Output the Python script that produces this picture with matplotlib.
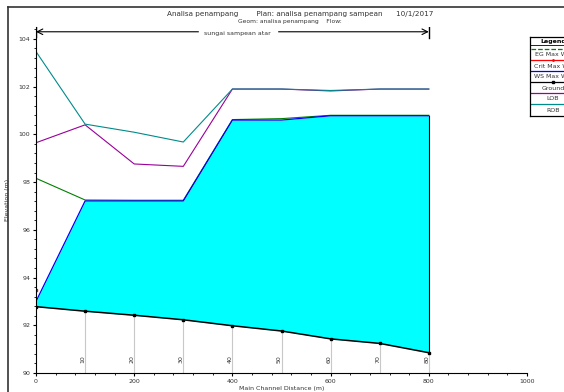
import matplotlib
matplotlib.use('Agg')
import matplotlib.pyplot as plt
from matplotlib.lines import Line2D
import numpy as np

# Data
dist = [0, 100, 200, 300, 400, 500, 600, 700, 800]
stations = ['', '10', '20', '30', '40', '50', '60', '70', '80']
ground = [92.78, 92.59, 92.42, 92.23, 91.98, 91.76, 91.43, 91.24, 90.85]
ws_max = [93.0, 97.21, 97.21, 97.21, 100.6, 100.6, 100.78, 100.78, 100.78]
eg_max = [98.16, 97.25, 97.24, 97.24, 100.62, 100.66, 100.8, 100.8, 100.8]
crit_max = [93.48]
lob = [99.65, 100.4, 98.76, 98.66, 101.9, 101.9, 101.82, 101.9, 101.9]
rob = [103.47, 100.43, 100.09, 99.68, 101.9, 101.9, 101.84, 101.9, 101.9]

legend_labels = ['EG Max WS', 'Crit Max WS', 'WS Max WS', 'Ground', 'LOB', 'ROB']
legend_colors = ['#008000', '#ff0000', '#0000ff', '#000000', '#990099', '#008b8b']

fig = plt.figure(figsize=(5.64, 3.92), dpi=100)
ax = fig.add_axes([36/564, 1 - 373/392, (527 - 36)/564, (373 - 27)/392])

ax.fill_between(dist, ground, ws_max, color='#00ffff', lw=0)
ax.plot([dist[-1], dist[-1]], [ground[-1], ws_max[-1]], color='black', lw=0.8)
ax.plot(dist, eg_max, color='#008000', lw=0.8)
ax.plot(dist, ws_max, color='#0000ff', lw=0.9)
ax.plot(dist[:1], crit_max, color='#ff0000', marker='s', ms=1.5, lw=0)
ax.plot(dist, lob, color='#990099', lw=0.8)
ax.plot(dist, rob, color='#008b8b', lw=0.8)
ax.plot(dist, ground, color='black', lw=1.1, marker='s', ms=2)

# station lines and labels
for d, g, s in zip(dist, ground, stations):
    if s:
        ax.plot([d, d], [90, g], color='#c8c8c8', lw=0.8, zorder=0)
        ax.text(d - 4, 90.4, s, rotation=90, fontsize=4.5, ha='center', va='bottom', color='#333333')

# reach arrow
ax.annotate('', xy=(0, 104.3), xytext=(800, 104.3),
            arrowprops=dict(arrowstyle='<->', lw=0.8, color='black', shrinkA=0, shrinkB=0))
ax.plot([800, 800], [104.05, 104.55], color='black', lw=1.0)
ax.plot([0, 0], [104.1, 104.5], color='black', lw=1.0)
ax.text(411, 104.22, 'sungai sampean atar', fontsize=4.5, ha='center', va='center',
        backgroundcolor='white', color='#333333')

ax.set_xlim(0, 1000)
ax.set_ylim(90, 104.5)
ax.set_xticks([0, 200, 400, 600, 800, 1000])
ax.set_xticks(np.arange(0, 1001, 40), minor=True)
ax.set_yticks(np.arange(90, 105, 2))
ax.set_yticks(np.arange(90, 104.5, 0.4), minor=True)
ax.tick_params(labelsize=4.5, length=2.5, width=0.8, pad=1.5, labelcolor='#333333')
ax.tick_params(which='minor', length=1.5, width=0.6)
for sp in ['top', 'right']:
    ax.spines[sp].set_visible(False)
ax.set_xlabel('Main Channel Distance (m)', fontsize=4.5, labelpad=2, color='#333333')
ax.set_ylabel('Elevation (m)', fontsize=4.5, labelpad=6, color='#333333')

fig.text(300/564, 1 - 14/392, 'Analisa penampang        Plan: analisa penampang sampean      10/1/2017',
         fontsize=5.2, ha='center', va='center', color='#333333')
fig.text(290/564, 1 - 22/392, 'Geom: analisa penampang    Flow:',
         fontsize=4.3, ha='center', va='center', color='#333333')

# figure frame
fig.add_artist(Line2D([8/564, 1], [1 - 7/392, 1 - 7/392], color='#333333', lw=1.2))
fig.add_artist(Line2D([8/564, 8/564], [0, 1 - 7/392], color='#333333', lw=1.2))

# legend box
lg = fig.add_axes([530/564, 1 - 116/392, 46/564, 79/392])
lg.set_xlim(0, 1)
lg.set_ylim(79, 0)
lg.set_xticks([])
lg.set_yticks([])
for sp in lg.spines.values():
    sp.set_linewidth(0.9)
lg.text(0.5, 4, 'Legend', fontsize=4.5, ha='center', va='center', weight='bold')
lg.plot([0, 1], [8, 8], color='black', lw=0.6)
styles = ['--', '-', '-', '-', '-', '-']
markers = ['', '.', '', 's', '', '']
for i, (lab, col) in enumerate(zip(legend_labels, legend_colors)):
    yl = 12 + 11 * i
    lg.plot([0.02, 0.98], [yl, yl], color=col, lw=0.9, ls=styles[i])
    if markers[i]:
        lg.plot([0.5], [yl], color=col, marker=markers[i], ms=2)
    lg.text(0.5, yl + 6, lab, fontsize=4.5, ha='center', va='center', color='#333333')

fig.savefig('out.png', dpi=100)
